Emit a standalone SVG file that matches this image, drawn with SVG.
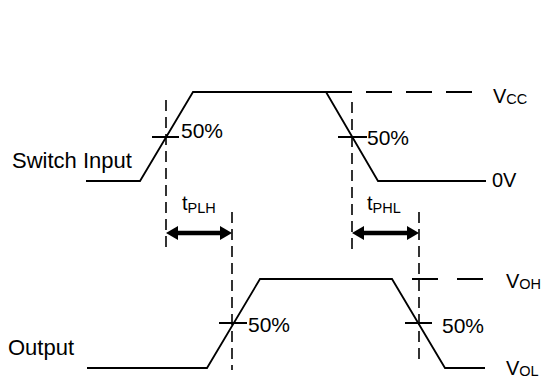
<svg xmlns="http://www.w3.org/2000/svg" width="544" height="383" viewBox="0 0 544 383">
<style>
.w{fill:none;stroke:#000;stroke-width:1.8;stroke-linejoin:miter}
.d{fill:none;stroke:#000;stroke-width:1.6;stroke-dasharray:11,6}
.dh{fill:none;stroke:#000;stroke-width:1.8}
.tk{stroke:#000;stroke-width:2}
.arr{stroke:#000;stroke-width:4.5}
.ah{fill:#000}
text{font-family:"Liberation Sans",Arial,sans-serif;fill:#000}
.lb{font-size:22px}
.p{font-size:21px}
.v{font-size:20px}
.s{font-size:14.5px}
</style>
<rect width="544" height="383" fill="#fff"/>
<g id="input-wave">
<polyline class="w" points="86,181 140,181 193,92 326,92 378,181 486,181"/>
<line class="dh" x1="326" y1="92" x2="478" y2="92" stroke-dasharray="26,14"/>
<line class="tk" x1="152" y1="137" x2="179" y2="137"/>
<line class="tk" x1="338" y1="137" x2="367" y2="137"/>
</g>
<g id="output-wave">
<polyline class="w" points="87,368 207,368 260,279 392,279 445,368 485,368"/>
<line class="dh" x1="412" y1="279" x2="485" y2="279" stroke-dasharray="26,19"/>
<line class="tk" x1="219" y1="323" x2="247" y2="323"/>
<line class="tk" x1="405" y1="323" x2="432" y2="323"/>
</g>
<g id="connectors">
<line class="d" x1="166" y1="100" x2="166" y2="250"/>
<line class="d" x1="232" y1="212" x2="232" y2="370"/>
<line class="d" x1="352" y1="102" x2="352" y2="250"/>
<line class="d" x1="419" y1="212" x2="419" y2="360"/>
<line class="arr" x1="175" y1="233" x2="223" y2="233"/>
<polygon class="ah" points="166,233 178,226 178,240"/>
<polygon class="ah" points="232,233 220,226 220,240"/>
<line class="arr" x1="361" y1="233" x2="410" y2="233"/>
<polygon class="ah" points="352,233 364,226 364,240"/>
<polygon class="ah" points="419,233 407,226 407,240"/>
</g>
<g id="labels">
<text class="lb" x="12" y="168">Switch Input</text>
<text class="lb" x="8" y="355">Output</text>
<text class="p" x="181" y="138">50%</text>
<text class="p" x="367" y="145">50%</text>
<text class="p" x="248" y="332">50%</text>
<text class="p" x="442" y="333">50%</text>
<text class="v" x="493" y="103">V<tspan class="s" dy="1">CC</tspan></text>
<text class="v" x="492" y="187">0V</text>
<text class="v" x="506" y="288">V<tspan class="s" dy="1">OH</tspan></text>
<text class="v" x="506" y="375">V<tspan class="s" dy="1">OL</tspan></text>
<text class="v" x="182" y="210">t<tspan class="s" dy="3">PLH</tspan></text>
<text class="v" x="367" y="210">t<tspan class="s" dy="3">PHL</tspan></text>
</g>
</svg>
